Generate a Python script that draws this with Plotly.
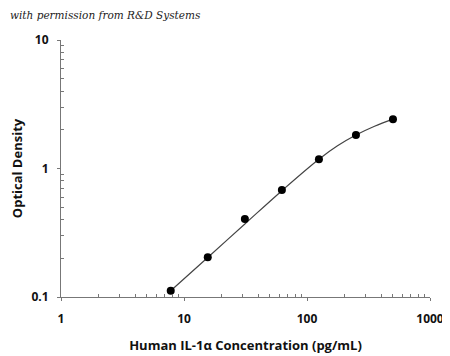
import plotly.graph_objects as go

# measured standards (markers)
concentration = [7.8, 15.6, 31.25, 62.5, 125, 250, 500]
optical_density = [0.112, 0.204, 0.405, 0.68, 1.18, 1.82, 2.42]

# fitted standard curve
curve_concentration = [7.8, 15.6, 31.25, 62.5, 125, 177, 250, 354, 500]
curve_density = [0.112, 0.203, 0.37, 0.672, 1.18, 1.50, 1.82, 2.13, 2.42]

x_tick_vals = [1, 10, 100, 1000]
x_tick_text = ["1", "10", "100", "1000"]
y_tick_vals = [0.1, 1, 10]
y_tick_text = ["0.1", "1", "10"]
x_minor_vals = [m * d for d in (1, 10, 100) for m in range(2, 10)]
y_minor_vals = [m * d for d in (0.1, 1) for m in range(2, 10)]

# page body has an 8px default margin, so the figure is sized to fit the window
W, H = 442, 348

fig = go.Figure()
fig.add_trace(go.Scatter(
    x=curve_concentration, y=curve_density, mode="lines",
    line=dict(color="#444444", width=1.2, shape="spline", smoothing=1.0),
    hoverinfo="skip", showlegend=False))
fig.add_trace(go.Scatter(
    x=concentration, y=optical_density, mode="markers",
    marker=dict(color="black", size=8),
    showlegend=False))

axis_font = dict(family="Open Sans", size=12, color="#111111", weight="bold")
title_font = dict(family="Open Sans", size=13, color="#111111", weight="bold")

fig.update_layout(
    width=W, height=H,
    margin=dict(l=53, r=20, t=32, b=59, autoexpand=False),
    paper_bgcolor="white", plot_bgcolor="white",
    title=dict(text="with permission from R&amp;D Systems",
               font=dict(family="DejaVu Serif", size=10.5, style="italic", color="#222222"),
               xref="container", yref="container", x=2/W, xanchor="left",
               y=1 - 7/H, yanchor="middle"),
    xaxis=dict(type="log", range=[0, 3], tickvals=x_tick_vals, ticktext=x_tick_text,
               automargin=False,
               showgrid=False, zeroline=False, showline=True, linecolor="#777777", linewidth=1,
               ticks="outside", ticklen=3, tickcolor="#777777", tickfont=axis_font,
               ticklabelstandoff=8,
               minor=dict(ticks="inside", ticklen=3, tickcolor="#777777",
                          tickvals=x_minor_vals, showgrid=False),
               title=dict(text="Human IL-1α Concentration (pg/mL)", font=title_font, standoff=14)),
    yaxis=dict(type="log", range=[-1, 1], tickvals=y_tick_vals, ticktext=y_tick_text,
               automargin=False,
               showgrid=False, zeroline=False, showline=True, linecolor="#777777", linewidth=1,
               ticks="outside", ticklen=3, tickcolor="#777777", tickfont=axis_font,
               ticklabelstandoff=6,
               minor=dict(ticks="inside", ticklen=3, tickcolor="#777777",
                          tickvals=y_minor_vals, showgrid=False),
               title=dict(text="Optical Density", font=title_font, standoff=12)),
)

fig.write_html("out.html")
